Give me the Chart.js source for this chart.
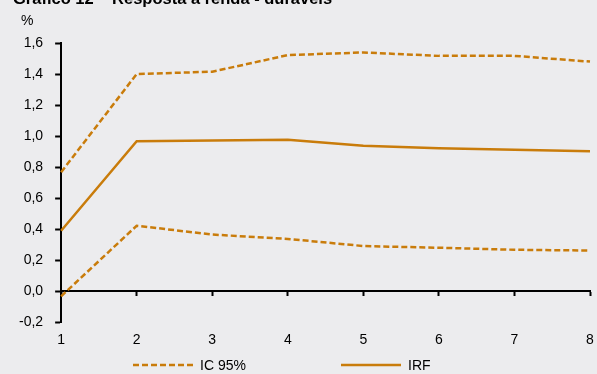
<!DOCTYPE html>
<html>
<head>
<meta charset="utf-8">
<script src="https://cdn.jsdelivr.net/npm/chart.js@4/dist/chart.umd.min.js"></script>
<style>
  html, body { margin: 0; padding: 0; background: #ececee; }
  #wrap { position: relative; width: 597px; height: 374px; overflow: hidden; }
</style>
</head>
<body>
<div id="wrap"><canvas id="chart" width="597" height="374"></canvas></div>
<script>
const periods = ['1', '2', '3', '4', '5', '6', '7', '8'];
const irf = [0.39, 0.967, 0.972, 0.976, 0.937, 0.922, 0.911, 0.902];
const upper95 = [0.767, 1.40, 1.415, 1.522, 1.539, 1.517, 1.517, 1.48];
const lower95 = [-0.033, 0.422, 0.365, 0.337, 0.291, 0.28, 0.267, 0.262];
const yTicks = [-0.2, 0, 0.2, 0.4, 0.6, 0.8, 1.0, 1.2, 1.4, 1.6];

const orange = '#c97c0b';
const font = { family: 'Arial, "Liberation Sans", sans-serif', size: 14 };

// title, unit label and legend drawn on the canvas
const extras = {
  id: 'extras',
  afterDraw(chart) {
    const ctx = chart.ctx;
    ctx.save();
    ctx.fillStyle = '#000';
    ctx.font = 'bold 16.5px Arial, "Liberation Sans", sans-serif';
    ctx.textBaseline = 'alphabetic';
    ctx.fillText('Gráfico 12 – Resposta à renda - duráveis', 13, 4);
    ctx.font = '14px Arial, "Liberation Sans", sans-serif';
    ctx.fillText('%', 21, 25);

    const items = [
      { ds: chart.data.datasets[0], x: 133 },
      { ds: chart.data.datasets[1], x: 341 },
    ];
    const y = 365;
    items.forEach(({ ds, x }) => {
      ctx.strokeStyle = ds.borderColor;
      ctx.lineWidth = ds.borderWidth;
      ctx.setLineDash(ds.borderDash || []);
      ctx.beginPath();
      ctx.moveTo(x, y);
      ctx.lineTo(x + 60, y);
      ctx.stroke();
      ctx.setLineDash([]);
      ctx.fillStyle = '#000';
      ctx.textBaseline = 'middle';
      ctx.fillText(ds.label, x + 67, y + 1);
    });
    ctx.restore();
  },
};

// let the last category sit close to the right edge
const noSidePad = (scale) => {
  scale.paddingRight = 0;
};

new Chart(document.getElementById('chart'), {
  type: 'line',
  data: {
    labels: periods,
    datasets: [{
      label: 'IC 95%',
      data: upper95,
      borderColor: orange,
      borderWidth: 2.5,
      borderDash: [6, 3],
      pointRadius: 0,
    }, {
      label: 'IRF',
      data: irf,
      borderColor: orange,
      borderWidth: 2.5,
      pointRadius: 0,
    }, {
      label: 'IC 95% inf',
      data: lower95,
      borderColor: orange,
      borderWidth: 2.5,
      borderDash: [6, 3],
      pointRadius: 0,
    }],
  },
  options: {
    responsive: false,
    animation: false,
    layout: { padding: { top: 43, right: 7, bottom: 15, left: 7 } },
    plugins: {
      legend: { display: false },
      tooltip: { enabled: false },
    },
    scales: {
      x: {
        position: { y: 0 },
        offset: false,
        afterFit: noSidePad,
        ticks: { display: false },
        grid: { drawOnChartArea: false, color: '#000', tickLength: 4, tickWidth: 2 },
        border: { color: '#000', width: 2 },
      },
      xLabels: {
        type: 'category',
        labels: periods,
        position: 'bottom',
        offset: false,
        afterFit: noSidePad,
        grid: { display: false, drawTicks: false },
        border: { display: false },
        ticks: { color: '#000', font, padding: 10, maxRotation: 0 },
      },
      y: {
        min: -0.2,
        max: 1.6,
        afterBuildTicks(scale) {
          scale.ticks = yTicks.map(v => ({ value: v }));
        },
        ticks: {
          color: '#000',
          font,
          padding: 12,
          callback: v => v.toFixed(1).replace('.', ','),
        },
        grid: { drawOnChartArea: false, color: '#000', tickLength: 6, tickWidth: 2 },
        border: { color: '#000', width: 2 },
      },
    },
  },
  plugins: [extras],
});
</script>
</body>
</html>
